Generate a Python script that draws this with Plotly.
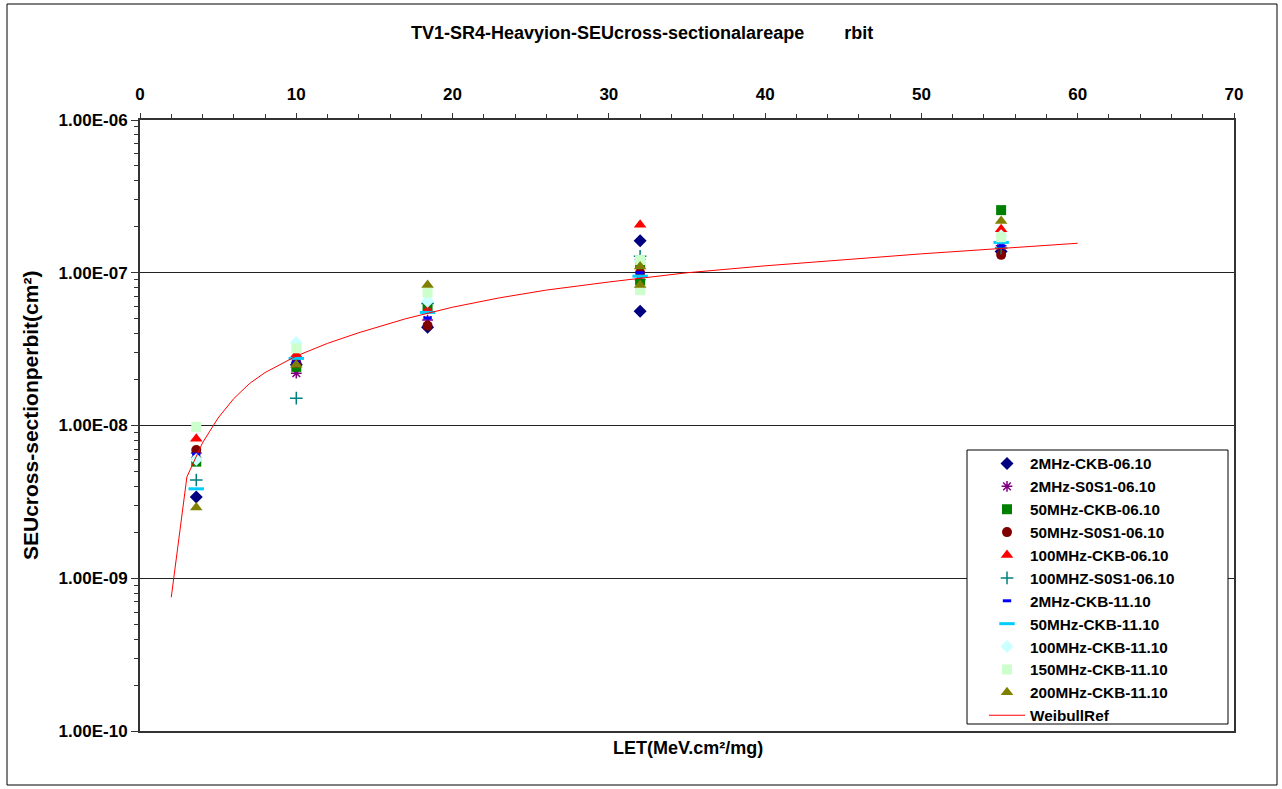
import plotly.graph_objects as go

# LET of each ion run (MeV.cm2/mg); the 32 MeV.cm2/mg ion was run twice
let_values = [3.6, 10.0, 18.4, 32.0, 32.0, 55.1]

# SEU cross-section per bit (cm2) for each test configuration
sigma_2mhz_ckb_0610 = [3.4e-9, 2.5e-8, 4.4e-8, 1.62e-7, 5.6e-8, 1.38e-7]
sigma_2mhz_s0s1_0610 = [6.6e-9, 2.2e-8, 4.9e-8, 1.22e-7, 9.0e-8, 1.5e-7]
sigma_50mhz_ckb_0610 = [5.8e-9, 2.42e-8, 5.97e-8, 1.15e-7, 8.5e-8, 2.57e-7]
sigma_50mhz_s0s1_0610 = [6.9e-9, 2.57e-8, 4.5e-8, 1.0e-7, None, 1.31e-7]
sigma_100mhz_ckb_0610 = [8.2e-9, 2.9e-8, 5.7e-8, 2.06e-7, None, 1.93e-7]
sigma_100mhz_s0s1_0610 = [4.4e-9, 1.51e-8, 6.3e-8, 1.28e-7, None, 1.45e-7]
sigma_2mhz_ckb_1110 = [6.5e-9, 2.6e-8, 5.06e-8, 1.0e-7, None, 1.5e-7]
sigma_50mhz_ckb_1110 = [3.85e-9, 2.75e-8, 5.5e-8, 9.5e-8, None, 1.58e-7]
sigma_100mhz_ckb_1110 = [6.0e-9, 3.5e-8, 6.5e-8, 1.2e-7, None, 1.75e-7]
sigma_150mhz_ckb_1110 = [9.8e-9, 3.2e-8, 7.4e-8, 1.21e-7, 7.7e-8, 1.71e-7]
sigma_200mhz_ckb_1110 = [2.9e-9, 2.5e-8, 8.3e-8, 1.1e-7, 8.3e-8, 2.18e-7]

series_names = [
    "2MHz-CKB-06.10", "2MHz-S0S1-06.10", "50MHz-CKB-06.10", "50MHz-S0S1-06.10",
    "100MHz-CKB-06.10", "100MHZ-S0S1-06.10", "2MHz-CKB-11.10", "50MHz-CKB-11.10",
    "100MHz-CKB-11.10", "150MHz-CKB-11.10", "200MHz-CKB-11.10",
]
series_values = [
    sigma_2mhz_ckb_0610, sigma_2mhz_s0s1_0610, sigma_50mhz_ckb_0610, sigma_50mhz_s0s1_0610,
    sigma_100mhz_ckb_0610, sigma_100mhz_s0s1_0610, sigma_2mhz_ckb_1110, sigma_50mhz_ckb_1110,
    sigma_100mhz_ckb_1110, sigma_150mhz_ckb_1110, sigma_200mhz_ckb_1110,
]

# Weibull reference curve
weibull_let = [2.0, 3.0, 4.0, 5.0, 6.0, 7.0, 8.0, 10.0, 12.0, 14.0, 17.0, 20.0,
               23.0, 26.0, 30.0, 35.0, 40.0, 45.0, 50.0, 55.0, 60.0]
weibull_sigma = [7.5e-10, 4.6e-9, 7.7e-9, 1.12e-8, 1.5e-8, 1.88e-8, 2.22e-8, 2.85e-8,
                 3.45e-8, 4.05e-8, 5.0e-8, 5.95e-8, 6.85e-8, 7.7e-8, 8.7e-8, 1.0e-7,
                 1.11e-7, 1.22e-7, 1.33e-7, 1.44e-7, 1.56e-7]

y_tick_vals = [1e-10, 1e-9, 1e-8, 1e-7, 1e-6]
y_tick_text = ["1.00E-10", "1.00E-09", "1.00E-08", "1.00E-07", "1.00E-06"]

marker_styles = [
    dict(symbol="diamond", size=10, color="#000080"),
    dict(symbol="asterisk-open", size=9, color="#800080", line=dict(color="#800080", width=1.5)),
    dict(symbol="square", size=10, color="#008000"),
    dict(symbol="circle", size=10, color="#800000"),
    dict(symbol="triangle-up", size=11, color="#FF0000"),
    dict(symbol="cross-thin-open", size=9, color="#008080", line=dict(color="#008080", width=1.5)),
    dict(symbol="line-ew-open", size=6, color="#0000FF", line=dict(color="#0000FF", width=3)),
    dict(symbol="line-ew-open", size=11, color="#00CCFF", line=dict(color="#00CCFF", width=3)),
    dict(symbol="diamond", size=10, color="#CCFFFF"),
    dict(symbol="square", size=10, color="#CCFFCC"),
    dict(symbol="triangle-up", size=11, color="#808000"),
]

FONT = "Liberation Sans, Arial, sans-serif"

fig = go.Figure()
for name, values, style in zip(series_names, series_values, marker_styles):
    fig.add_trace(go.Scatter(
        x=let_values, y=values, name=name, mode="markers",
        marker=style, legendgroup=name,
    ))

fig.add_trace(go.Scatter(
    x=weibull_let, y=weibull_sigma, name="WeibullRef", mode="lines",
    line=dict(color="#FF0000", width=1), legendgroup="WeibullRef",
))

# plot area in pixels: x 140..1234, y 120..731
W, H = 1282, 789
L, R, T, B = 140, 48, 120, 58
PW, PH = W - L - R, H - T - B


def px(x):
    return (x - L) / PW


def py(y):
    return (H - B - y) / PH


minor_y = [k * 10.0 ** e for e in range(-10, -6) for k in range(2, 10)]

fig.update_layout(
    width=W, height=H, autosize=False,
    margin=dict(l=L, r=R, t=T, b=B),
    paper_bgcolor="white", plot_bgcolor="white",
    font=dict(family=FONT, size=17, color="black", weight="bold"),
    showlegend=True,
    legend=dict(
        x=px(984), y=py(447), xanchor="left", yanchor="top",
        bgcolor="rgba(0,0,0,0)", borderwidth=0,
        font=dict(family=FONT, size=15.3, color="black", weight="bold"),
        itemwidth=36, tracegroupgap=0,
    ),
    xaxis=dict(
        side="top", range=[0, 70], tickmode="linear", tick0=0, dtick=10,
        ticks="outside", ticklen=5, tickwidth=1, tickcolor="#333",
        showline=True, linecolor="#333", linewidth=2, mirror=True,
        showgrid=False, zeroline=False,
        minor=dict(dtick=2, tick0=0, ticks="outside", ticklen=4, tickcolor="#333", showgrid=False),
        tickfont=dict(size=17), ticklabelstandoff=6,
    ),
    yaxis=dict(
        type="log", range=[-10, -6], tickmode="array",
        tickvals=y_tick_vals, ticktext=y_tick_text,
        ticks="outside", ticklen=7, tickwidth=1, tickcolor="#333",
        showline=True, linecolor="#333", linewidth=2, mirror=True,
        showgrid=True, gridcolor="#222", gridwidth=1, zeroline=False,
        minor=dict(tickvals=minor_y, ticks="outside", ticklen=4, tickcolor="#333", showgrid=False),
        tickfont=dict(size=17),
    ),
    shapes=[
        # chart frame
        dict(type="rect", xref="paper", yref="paper",
             x0=px(7), x1=px(1277), y0=py(785), y1=py(4),
             line=dict(color="black", width=1), layer="below"),
        # legend box
        dict(type="rect", xref="paper", yref="paper",
             x0=px(967), x1=px(1228), y0=py(724), y1=py(450),
             line=dict(color="black", width=1), fillcolor="white", layer="above"),
    ],
    annotations=[
        dict(text="TV1-SR4-Heavyion-SEUcross-sectionalareape" + "\u00a0" * 8 + "rbit",
             xref="paper", yref="paper", x=px(642), y=py(33),
             xanchor="center", yanchor="middle", showarrow=False,
             font=dict(family=FONT, size=18, weight="bold")),
        dict(text="LET(MeV.cm²/mg)",
             xref="paper", yref="paper", x=px(688), y=py(748),
             xanchor="center", yanchor="middle", showarrow=False,
             font=dict(family=FONT, size=18, weight="bold")),
        dict(text="SEUcross-sectionperbit(cm²)",
             xref="paper", yref="paper", x=px(30), y=py(416), textangle=-90,
             xanchor="center", yanchor="middle", showarrow=False,
             font=dict(family=FONT, size=21, weight="bold")),
    ],
)

fig.write_html("out.html")
